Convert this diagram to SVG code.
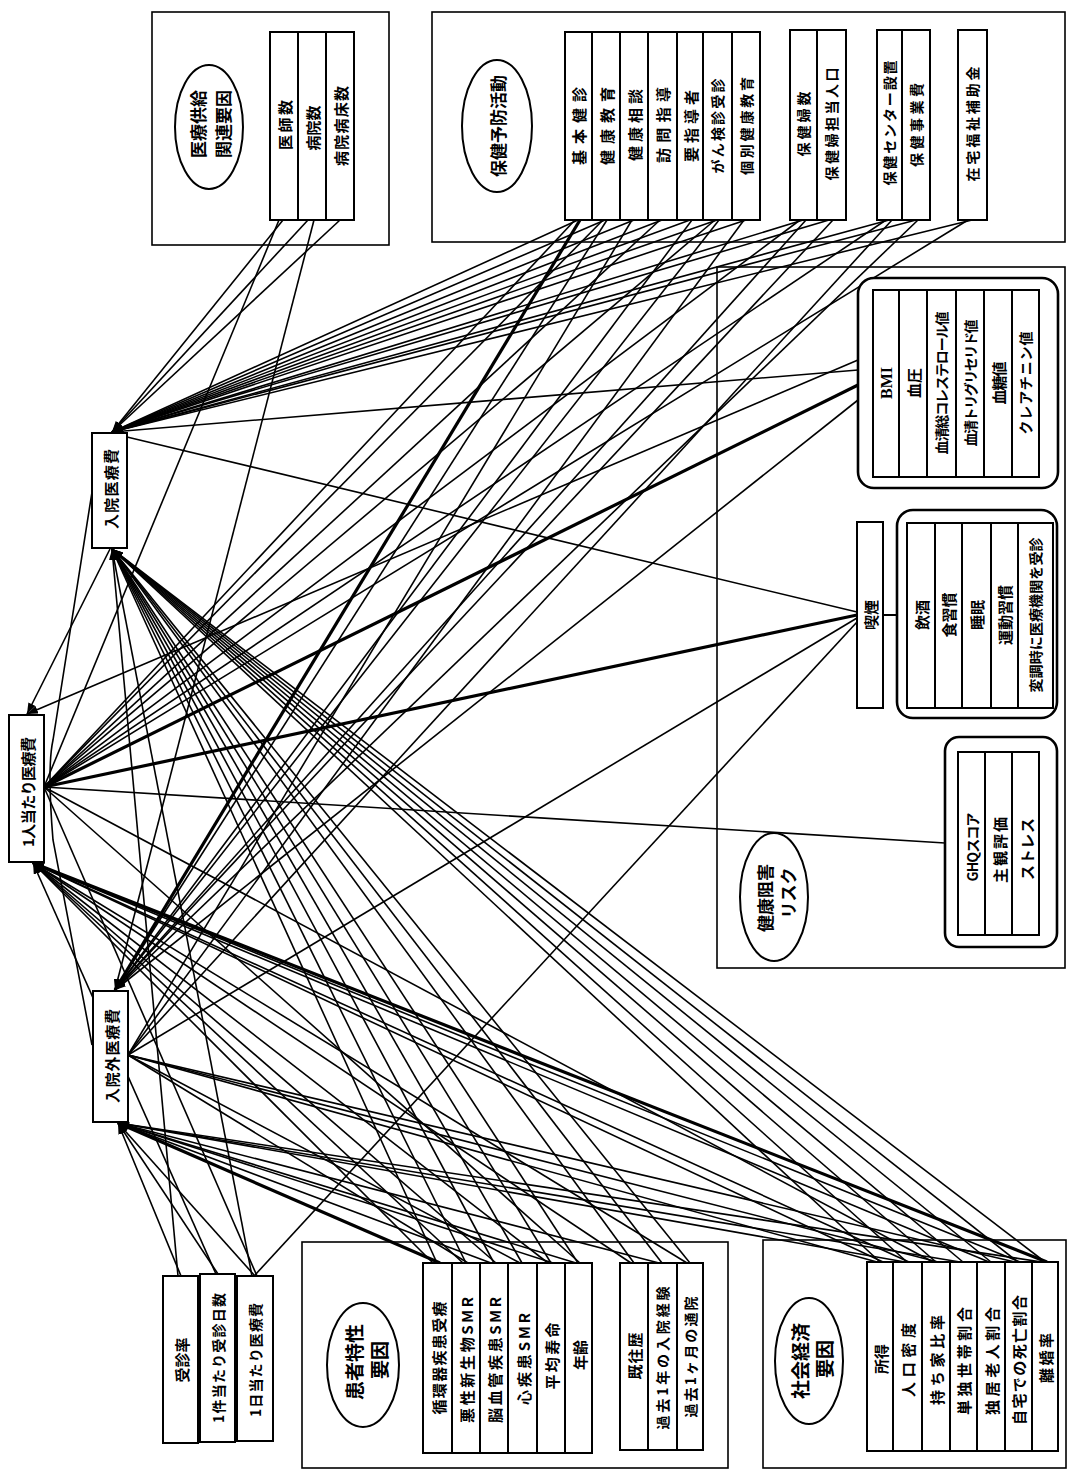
<svg xmlns="http://www.w3.org/2000/svg" width="1068" height="1478" viewBox="0 0 1068 1478">
<defs>
<marker id="ah" markerUnits="userSpaceOnUse" markerWidth="11" markerHeight="8" refX="11" refY="4" orient="auto">
<path d="M0,0 L11,4 L0,8 z" fill="#000"/>
</marker>
<style>
.bg{fill:#fff}
.cont{fill:none;stroke:#000;stroke-width:1.6}
.grp{fill:#fff;stroke:#000;stroke-width:2.6}
.box{fill:#fff;stroke:#000;stroke-width:2}
.ell{fill:#fff;stroke:#000;stroke-width:2}
.cn{fill:#fff;stroke:#000;stroke-width:2}
text{font-family:"Noto Sans CJK JP","Noto Sans",sans-serif;font-size:14px;font-weight:bold;fill:#000;text-anchor:middle;dominant-baseline:central}
.md{font-size:15px}
.lg{font-size:17px}
.xl{font-size:19px}
.ct{font-size:15px}
.serif{font-family:"Liberation Serif","Noto Sans CJK JP",serif;font-size:16px;font-weight:bold}
#connectors line,#connectors path{stroke:#000;stroke-width:1.6;fill:none}
#connectors .a{marker-end:url(#ah)}
#connectors .t{stroke-width:3.2}
</style>
</defs>
<rect class="bg" x="0" y="0" width="1068" height="1478"/>

<!-- containers -->
<g id="container-supply">
<rect class="cont" x="152" y="12" width="237" height="233"/>
</g>
<g id="container-prevention">
<rect class="cont" x="432" y="12" width="633" height="230"/>
</g>
<g id="container-risk">
<rect class="cont" x="717" y="267" width="348" height="701"/>
</g>
<g id="container-patient">
<rect class="cont" x="302" y="1242" width="426" height="226"/>
</g>
<g id="container-socio">
<rect class="cont" x="763" y="1240" width="303" height="228"/>
</g>

<!-- connectors -->
<g id="connectors">
<!-- supply -->
<line class="a" x1="283" y1="220" x2="112" y2="432"/>
<line x1="279" y1="220" x2="44" y2="787"/>
<line class="a" x1="308" y1="220" x2="112" y2="432"/>
<line class="a" x1="314" y1="220" x2="115" y2="990"/>
<line class="a" x1="340" y1="220" x2="112" y2="432"/>
<!-- prevention -->
<line class="a" x1="578" y1="220" x2="112" y2="432"/>
<line x1="575" y1="220" x2="44" y2="787"/>
<line class="a t" x1="580" y1="220" x2="115" y2="990"/>
<line class="a" x1="605" y1="220" x2="112" y2="432"/>
<line class="a" x1="607" y1="220" x2="115" y2="990"/>
<line x1="603" y1="220" x2="44" y2="787"/>
<line class="a" x1="634" y1="220" x2="112" y2="432"/>
<line x1="632" y1="220" x2="128" y2="1055"/>
<line class="a" x1="662" y1="220" x2="112" y2="432"/>
<line x1="660" y1="220" x2="44" y2="787"/>
<line class="a" x1="690" y1="220" x2="112" y2="432"/>
<line class="a" x1="692" y1="220" x2="115" y2="990"/>
<line class="a" x1="717" y1="220" x2="112" y2="432"/>
<line x1="715" y1="220" x2="44" y2="787"/>
<line class="a" x1="719" y1="220" x2="115" y2="990"/>
<line class="a" x1="746" y1="220" x2="112" y2="432"/>
<line x1="744" y1="220" x2="128" y2="1055"/>
<line class="a" x1="803" y1="220" x2="112" y2="432"/>
<line x1="800" y1="220" x2="44" y2="787"/>
<line class="a" x1="806" y1="220" x2="115" y2="990"/>
<line class="a" x1="829" y1="220" x2="112" y2="432"/>
<line class="a" x1="833" y1="220" x2="115" y2="990"/>
<line class="a" x1="889" y1="220" x2="112" y2="432"/>
<line x1="886" y1="220" x2="44" y2="787"/>
<line x1="892" y1="220" x2="128" y2="1055"/>
<line class="a" x1="916" y1="220" x2="112" y2="432"/>
<line class="a" x1="918" y1="220" x2="115" y2="990"/>
<line class="a" x1="972" y1="220" x2="112" y2="432"/>
<line x1="968" y1="220" x2="44" y2="787"/>
<!-- health risk -->
<line class="t" x1="858" y1="385" x2="44" y2="787"/>
<line class="a" x1="858" y1="370" x2="112" y2="432"/>
<line class="a" x1="858" y1="400" x2="115" y2="990"/>
<line class="a" x1="858" y1="360" x2="27" y2="714"/>
<line x1="857" y1="612" x2="127" y2="437"/>
<line class="t" x1="857" y1="615" x2="44" y2="787"/>
<line x1="857" y1="618" x2="128" y2="1055"/>
<line x1="857" y1="622" x2="255" y2="1275"/>
<line x1="945" y1="843" x2="44" y2="787"/>
<!-- patient -->
<line class="a" x1="437" y1="1263" x2="112" y2="549"/>
<line class="a" x1="433" y1="1263" x2="33" y2="863"/>
<line class="a t" x1="440" y1="1263" x2="118" y2="1123"/>
<line class="a" x1="466" y1="1263" x2="112" y2="549"/>
<line class="a" x1="463" y1="1263" x2="33" y2="863"/>
<line x1="468" y1="1263" x2="128" y2="1055"/>
<line class="a" x1="494" y1="1263" x2="112" y2="549"/>
<line class="a" x1="491" y1="1263" x2="118" y2="1123"/>
<line class="a" x1="496" y1="1263" x2="33" y2="863"/>
<line class="a" x1="522" y1="1263" x2="112" y2="549"/>
<line x1="520" y1="1263" x2="128" y2="1055"/>
<line class="a" x1="551" y1="1263" x2="112" y2="549"/>
<line class="a" x1="548" y1="1263" x2="33" y2="863"/>
<line class="a" x1="553" y1="1263" x2="118" y2="1123"/>
<line class="a" x1="578" y1="1263" x2="112" y2="549"/>
<line class="a" x1="576" y1="1263" x2="118" y2="1123"/>
<line x1="580" y1="1263" x2="44" y2="787"/>
<line class="a" x1="634" y1="1263" x2="112" y2="549"/>
<line class="a" x1="631" y1="1263" x2="33" y2="863"/>
<line class="a" x1="662" y1="1263" x2="112" y2="549"/>
<line class="a" x1="659" y1="1263" x2="118" y2="1123"/>
<line class="a" x1="690" y1="1263" x2="112" y2="549"/>
<line class="a" x1="687" y1="1263" x2="33" y2="863"/>
<!-- socio -->
<line class="a" x1="880" y1="1262" x2="112" y2="549"/>
<line x1="877" y1="1262" x2="128" y2="1055"/>
<line class="a" x1="883" y1="1262" x2="33" y2="863"/>
<line class="a" x1="907" y1="1262" x2="112" y2="549"/>
<line class="a" x1="905" y1="1262" x2="118" y2="1123"/>
<line class="a" x1="909" y1="1262" x2="33" y2="863"/>
<line class="a" x1="936" y1="1262" x2="112" y2="549"/>
<line x1="933" y1="1262" x2="44" y2="787"/>
<line x1="938" y1="1262" x2="128" y2="1055"/>
<line class="a" x1="963" y1="1262" x2="112" y2="549"/>
<line class="a" x1="960" y1="1262" x2="118" y2="1123"/>
<line class="a" x1="991" y1="1262" x2="112" y2="549"/>
<line class="a" x1="989" y1="1262" x2="33" y2="863"/>
<line class="a" x1="1018" y1="1262" x2="112" y2="549"/>
<line x1="1015" y1="1262" x2="128" y2="1055"/>
<line class="a" x1="1020" y1="1262" x2="33" y2="863"/>
<line class="a" x1="1045" y1="1262" x2="112" y2="549"/>
<line class="a" x1="1042" y1="1262" x2="118" y2="1123"/>
<line class="a t" x1="1047" y1="1262" x2="33" y2="863"/>
<!-- visit-rate group -->
<line class="a" x1="181" y1="1276" x2="118" y2="1123"/>
<line class="a" x1="178" y1="1276" x2="112" y2="549"/>
<line class="a" x1="218" y1="1274" x2="118" y2="1123"/>
<line class="a" x1="216" y1="1274" x2="33" y2="863"/>
<line class="a" x1="255" y1="1276" x2="118" y2="1123"/>
<line class="a" x1="252" y1="1276" x2="112" y2="549"/>
<line x1="257" y1="1276" x2="44" y2="787"/>
<!-- between outcomes -->
<line class="a" x1="110" y1="549" x2="27" y2="714"/>
<path d="M92,492 L53,740 Q47,767 53,840 L92,1045"/>
</g>

<!-- supply nodes -->
<g id="supply-label">
<ellipse class="ell" cx="209" cy="127" rx="34" ry="62"/>
<text class="lg" x="197" y="124" transform="rotate(-90 197 124)">医療供給</text>
<text class="lg" x="222" y="124" transform="rotate(-90 222 124)">関連要因</text>
</g>
<g id="n-doctors"><rect class="box" x="270" y="32" width="28" height="188"/><text class="md" x="284" y="125" textLength="50" transform="rotate(-90 284 125)">医師数</text></g>
<g id="n-hospitals"><rect class="box" x="298" y="32" width="28" height="188"/><text class="md" x="312" y="128" textLength="45" transform="rotate(-90 312 128)">病院数</text></g>
<g id="n-beds"><rect class="box" x="326" y="32" width="28" height="188"/><text class="md" x="340" y="126" textLength="80" transform="rotate(-90 340 126)">病院病床数</text></g>

<!-- prevention nodes -->
<g id="prevention-label">
<ellipse class="ell" cx="497" cy="126" rx="35" ry="66"/>
<text class="lg" x="497" y="126" transform="rotate(-90 497 126)">保健予防活動</text>
</g>
<g id="n-kihon"><rect class="box" x="565" y="32" width="27" height="188"/><text class="md" x="578" y="126" textLength="78" transform="rotate(-90 578 126)">基本健診</text></g>
<g id="n-kyoiku"><rect class="box" x="592" y="32" width="28" height="188"/><text class="md" x="606" y="126" textLength="78" transform="rotate(-90 606 126)">健康教育</text></g>
<g id="n-sodan"><rect class="box" x="620" y="32" width="28" height="188"/><text class="md" x="634" y="125" textLength="72" transform="rotate(-90 634 125)">健康相談</text></g>
<g id="n-homon"><rect class="box" x="648" y="32" width="29" height="188"/><text class="md" x="662" y="125" textLength="76" transform="rotate(-90 662 125)">訪問指導</text></g>
<g id="n-yoshido"><rect class="box" x="677" y="32" width="26" height="188"/><text class="md" x="690" y="126" textLength="72" transform="rotate(-90 690 126)">要指導者</text></g>
<g id="n-gan"><rect class="box" x="703" y="32" width="29" height="188"/><text x="717" y="126" textLength="95" transform="rotate(-90 717 126)">がん検診受診</text></g>
<g id="n-kobetsu"><rect class="box" x="732" y="32" width="28" height="188"/><text x="746" y="126" textLength="98" transform="rotate(-90 746 126)">個別健康教育</text></g>
<g id="n-hokenpu"><rect class="box" x="790" y="30" width="27" height="190"/><text x="803" y="124" textLength="65" transform="rotate(-90 803 124)">保健婦数</text></g>
<g id="n-tanto"><rect class="box" x="817" y="30" width="29" height="190"/><text x="831" y="124" textLength="113" transform="rotate(-90 831 124)">保健婦担当人口</text></g>
<g id="n-center"><rect class="box" x="877" y="30" width="25" height="190"/><text x="889" y="123" textLength="125" transform="rotate(-90 889 123)">保健センター設置</text></g>
<g id="n-jigyo"><rect class="box" x="902" y="30" width="28" height="190"/><text x="916" y="125" textLength="84" transform="rotate(-90 916 125)">保健事業費</text></g>
<g id="n-zaitaku"><rect class="box" x="958" y="30" width="29" height="190"/><text x="972" y="124" textLength="115" transform="rotate(-90 972 124)">在宅福祉補助金</text></g>

<!-- health risk nodes -->
<g id="risk-label">
<ellipse class="ell" cx="774" cy="897" rx="34" ry="64"/>
<text class="lg" x="764" y="898" transform="rotate(-90 764 898)">健康阻害</text>
<text class="lg" x="787" y="893" transform="rotate(-90 787 893)">リスク</text>
</g>
<g id="g-bio">
<rect class="grp" x="858" y="278" width="200" height="210" rx="16"/>
<g id="n-bmi"><rect class="box" x="873" y="290" width="26" height="187"/><text class="serif" x="886" y="383" transform="rotate(-90 886 383)">BMI</text></g>
<g id="n-bp"><rect class="box" x="899" y="290" width="28" height="187"/><text class="md" x="913" y="383" transform="rotate(-90 913 383)">血圧</text></g>
<g id="n-chol"><rect class="box" x="927" y="290" width="29" height="187"/><text x="941" y="383" textLength="143" font-size="13" transform="rotate(-90 941 383)">血清総コレステロール値</text></g>
<g id="n-tg"><rect class="box" x="956" y="290" width="28" height="187"/><text x="970" y="383" textLength="127" transform="rotate(-90 970 383)">血清トリグリセリド値</text></g>
<g id="n-glu"><rect class="box" x="984" y="290" width="28" height="187"/><text class="md" x="998" y="383" textLength="43" transform="rotate(-90 998 383)">血糖値</text></g>
<g id="n-cre"><rect class="box" x="1012" y="290" width="27" height="187"/><text x="1025" y="383" textLength="103" transform="rotate(-90 1025 383)">クレアチニン値</text></g>
</g>
<g id="n-smoke"><rect class="box" x="857" y="522" width="26" height="186"/><text class="ct" x="870" y="615" transform="rotate(-90 870 615)">喫煙</text></g>
<g id="g-life">
<line x1="883" y1="615" x2="897" y2="615" stroke="#000" stroke-width="2"/>
<rect class="grp" x="897" y="510" width="160" height="208" rx="16"/>
<g id="n-drink"><rect class="box" x="907" y="523" width="28" height="185"/><text class="md" x="921" y="615" transform="rotate(-90 921 615)">飲酒</text></g>
<g id="n-diet"><rect class="box" x="935" y="523" width="27" height="185"/><text class="md" x="948" y="615" transform="rotate(-90 948 615)">食習慣</text></g>
<g id="n-sleep"><rect class="box" x="962" y="523" width="29" height="185"/><text class="md" x="976" y="615" transform="rotate(-90 976 615)">睡眠</text></g>
<g id="n-exercise"><rect class="box" x="991" y="523" width="27" height="185"/><text class="md" x="1004" y="615" transform="rotate(-90 1004 615)">運動習慣</text></g>
<g id="n-visit"><rect class="box" x="1018" y="523" width="35" height="185"/><text x="1035" y="615" textLength="155" font-size="13" transform="rotate(-90 1035 615)">変調時に医療機関を受診</text></g>
</g>
<g id="g-mental">
<rect class="grp" x="945" y="737" width="112" height="210" rx="14"/>
<g id="n-ghq"><rect class="box" x="958" y="752" width="27" height="183"/><text x="972" y="847" textLength="69" transform="rotate(-90 972 847)">GHQスコア</text></g>
<g id="n-subj"><rect class="box" x="985" y="752" width="27" height="183"/><text class="md" x="999" y="850" textLength="66" transform="rotate(-90 999 850)">主観評価</text></g>
<g id="n-stress"><rect class="box" x="1012" y="752" width="27" height="183"/><text class="md" x="1026" y="849" textLength="62" transform="rotate(-90 1026 849)">ストレス</text></g>
</g>

<!-- visit-rate group -->
<g id="n-jushinritsu"><rect class="box" x="163" y="1276" width="35" height="167"/><text class="md" x="181" y="1360" transform="rotate(-90 181 1360)">受診率</text></g>
<g id="n-nissu"><rect class="box" x="200" y="1274" width="35" height="168"/><text x="218" y="1358" textLength="130" transform="rotate(-90 218 1358)">1件当たり受診日数</text></g>
<g id="n-ichinichi"><rect class="box" x="237" y="1276" width="36" height="165"/><text x="255" y="1360" textLength="114" transform="rotate(-90 255 1360)">1日当たり医療費</text></g>

<!-- patient nodes -->
<g id="patient-label">
<ellipse class="ell" cx="363" cy="1365" rx="36" ry="62"/>
<text class="xl" x="353" y="1362" transform="rotate(-90 353 1362)">患者特性</text>
<text class="xl" x="378" y="1360" transform="rotate(-90 378 1360)">要因</text>
</g>
<g id="n-junkanki"><rect class="box" x="423" y="1263" width="29" height="190"/><text class="md" x="438" y="1358" textLength="113" transform="rotate(-90 438 1358)">循環器疾患受療</text></g>
<g id="n-akusei"><rect class="box" x="452" y="1263" width="28" height="190"/><text class="md" x="466" y="1360" textLength="126" transform="rotate(-90 466 1360)">悪性新生物SMR</text></g>
<g id="n-nokekkan"><rect class="box" x="480" y="1263" width="28" height="190"/><text class="md" x="494" y="1360" textLength="126" transform="rotate(-90 494 1360)">脳血管疾患SMR</text></g>
<g id="n-shinshikkan"><rect class="box" x="508" y="1263" width="29" height="190"/><text class="md" x="523" y="1359" textLength="92" transform="rotate(-90 523 1359)">心疾患SMR</text></g>
<g id="n-jumyo"><rect class="box" x="537" y="1263" width="28" height="190"/><text class="md" x="551" y="1356" textLength="67" transform="rotate(-90 551 1356)">平均寿命</text></g>
<g id="n-nenrei"><rect class="box" x="565" y="1263" width="27" height="190"/><text class="md" x="579" y="1355" transform="rotate(-90 579 1355)">年齢</text></g>
<g id="n-kiorek"><rect class="box" x="620" y="1263" width="28" height="187"/><text class="md" x="634" y="1356" textLength="47" transform="rotate(-90 634 1356)">既往歴</text></g>
<g id="n-nyuin1"><rect class="box" x="648" y="1263" width="29" height="187"/><text x="662" y="1358" textLength="143" transform="rotate(-90 662 1358)">過去1年の入院経験</text></g>
<g id="n-tsuin"><rect class="box" x="677" y="1263" width="26" height="187"/><text x="690" y="1357" textLength="121" transform="rotate(-90 690 1357)">過去1ヶ月の通院</text></g>

<!-- socio nodes -->
<g id="socio-label">
<ellipse class="ell" cx="809" cy="1361" rx="34" ry="63"/>
<text class="xl" x="799" y="1361" transform="rotate(-90 799 1361)">社会経済</text>
<text class="xl" x="823" y="1359" transform="rotate(-90 823 1359)">要因</text>
</g>
<g id="n-shotoku"><rect class="box" x="867" y="1262" width="26" height="189"/><text class="md" x="880" y="1359" transform="rotate(-90 880 1359)">所得</text></g>
<g id="n-mitsudo"><rect class="box" x="893" y="1262" width="29" height="189"/><text class="md" x="907" y="1360" textLength="74" transform="rotate(-90 907 1360)">人口密度</text></g>
<g id="n-mochiie"><rect class="box" x="922" y="1262" width="28" height="189"/><text class="md" x="936" y="1360" textLength="90" transform="rotate(-90 936 1360)">持ち家比率</text></g>
<g id="n-tandoku"><rect class="box" x="950" y="1262" width="27" height="189"/><text class="md" x="963" y="1361" textLength="108" transform="rotate(-90 963 1361)">単独世帯割合</text></g>
<g id="n-dokkyo"><rect class="box" x="977" y="1262" width="28" height="189"/><text class="md" x="991" y="1361" textLength="108" transform="rotate(-90 991 1361)">独居老人割合</text></g>
<g id="n-jitaku"><rect class="box" x="1005" y="1262" width="27" height="189"/><text class="md" x="1018" y="1360" textLength="130" transform="rotate(-90 1018 1360)">自宅での死亡割合</text></g>
<g id="n-rikon"><rect class="box" x="1032" y="1262" width="26" height="189"/><text class="md" x="1045" y="1358" textLength="50" transform="rotate(-90 1045 1358)">離婚率</text></g>

<!-- outcome nodes -->
<g id="n-inpatient"><rect class="cn" x="92" y="433" width="35" height="115"/><text class="ct" x="110" y="489" textLength="80" transform="rotate(-90 110 489)">入院医療費</text></g>
<g id="n-percapita"><rect class="cn" x="9" y="715" width="35" height="147"/><text class="ct" x="27" y="792" textLength="110" transform="rotate(-90 27 792)">1人当たり医療費</text></g>
<g id="n-outpatient"><rect class="cn" x="93" y="991" width="35" height="131"/><text class="ct" x="111" y="1056" textLength="94" transform="rotate(-90 111 1056)">入院外医療費</text></g>
</svg>
